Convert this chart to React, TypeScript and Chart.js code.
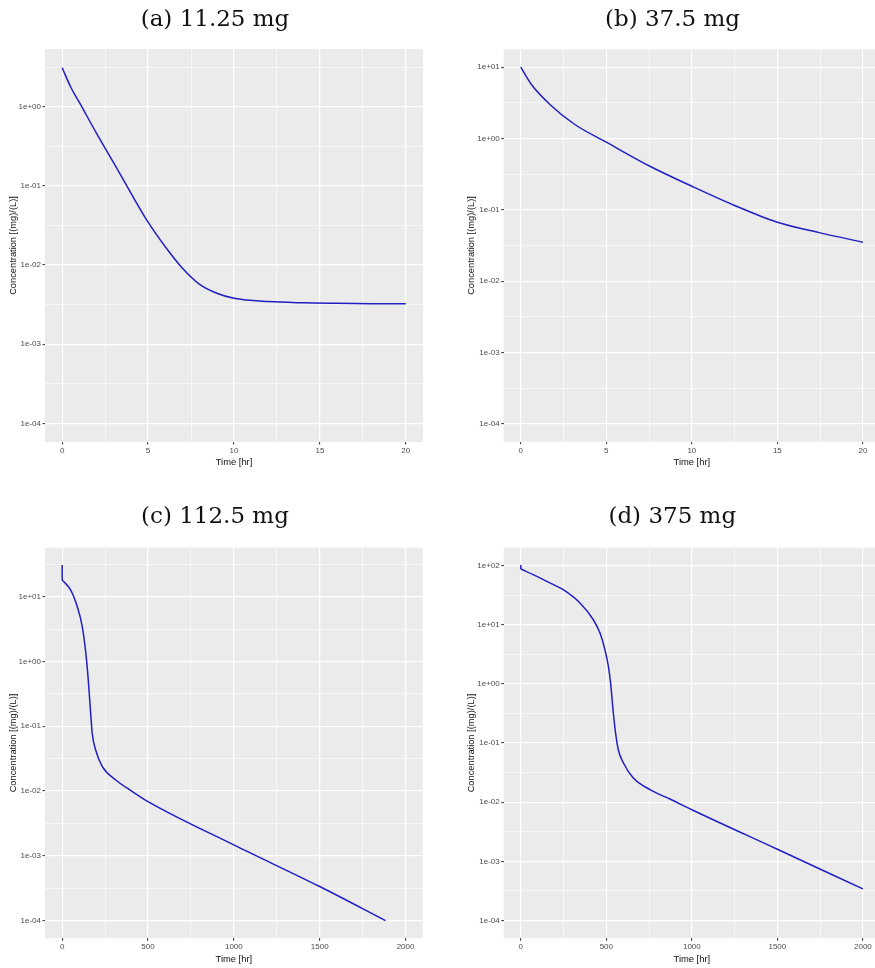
import React, { useEffect, useRef } from 'react';
import { Chart, registerables } from 'chart.js';

Chart.register(...registerables);

// ---------- data ----------
// (a) 11.25 mg
const A_TIME = [0, 0.5, 1, 2, 3, 4, 5, 6, 7, 8, 9, 10, 12, 14, 16, 18, 20];
const A_CONC = [3.1, 1.76, 1.13, 0.46, 0.195, 0.081, 0.0347, 0.017, 0.0091, 0.0057, 0.0044, 0.0038, 0.00345, 0.00333, 0.00328, 0.00325, 0.00323];

// (b) 37.5 mg
const B_TIME = [0, 0.62, 1.7, 3.16, 5, 7.55, 10, 12.5, 15, 17.5, 20];
const B_CONC = [10, 5.71, 3.0, 1.57, 0.887, 0.408, 0.214, 0.115, 0.067, 0.0475, 0.0352];

// (c) 112.5 mg  (initial spike at t = 0, then the decay curve)
const C_SPIKE_TIME = [0, 0];
const C_SPIKE_CONC = [30.8, 18.1];
const C_TIME = [0, 49, 88, 117, 140, 152, 166, 175, 195, 234, 312, 409, 500, 1000, 1500, 1883];
const C_CONC = [18.1, 12.7, 7.0, 3.44, 1.19, 0.52, 0.158, 0.078, 0.043, 0.0238, 0.0148, 0.0098, 0.00686, 0.00147, 0.000335, 0.0001];

// (d) 375 mg  (initial spike at t = 0, then the decay curve)
const D_SPIKE_TIME = [0, 0];
const D_SPIKE_CONC = [102, 87];
const D_TIME = [0, 100, 175, 248, 346, 424, 463, 492, 512, 525, 541, 554, 570, 600, 658, 755, 872, 1000, 1500, 2000];
const D_CONC = [87, 64, 49.7, 38.9, 23.2, 12.1, 7.2, 3.77, 1.97, 1.03, 0.321, 0.148, 0.077, 0.046, 0.0256, 0.0163, 0.0113, 0.00746, 0.0016, 0.000342];

// ---------- tick labels ----------
const X_TICKS_SHORT = [0, 5, 10, 15, 20];
const X_TICKS_LONG = [0, 500, 1000, 1500, 2000];
const Y_TICKS_A = [1e-4, 1e-3, 1e-2, 1e-1, 1];
const Y_LABELS_A = ['1e-04', '1e-03', '1e-02', '1e-01', '1e+00'];
const Y_TICKS_B = [1e-4, 1e-3, 1e-2, 1e-1, 1, 10];
const Y_LABELS_B = ['1e-04', '1e-03', '1e-02', '1e-01', '1e+00', '1e+01'];
const Y_TICKS_D = [1e-4, 1e-3, 1e-2, 1e-1, 1, 10, 100];
const Y_LABELS_D = ['1e-04', '1e-03', '1e-02', '1e-01', '1e+00', '1e+01', '1e+02'];

const TITLES = ['(a) 11.25 mg', '(b) 37.5 mg', '(c) 112.5 mg', '(d) 375 mg'];
const X_TITLE = 'Time [hr]';
const Y_TITLE = 'Concentration [(mg)/(L)]';

const SANS = '"Liberation Sans", Arial, sans-serif';
const LINE_COLOR = '#1f1fc4';

type Spec = {
  title: string;
  left: number; top: number; width: number; height: number;
  padTop: number; padRight: number; yAxisW: number; xAxisH: number;
  yTitlePad: number; xTitlePad: number;
  xMin: number; xMax: number; xMajor: number[];
  yMin: number; yMax: number; yMajor: number[]; yLabels: string[];
  time: number[]; conc: number[];
  spikeTime?: number[]; spikeConc?: number[];
  titleX: number; titleTop: number;
};

const SPECS: Spec[] = [
  {
    title: TITLES[0], left: 0, top: 0, width: 437, height: 480,
    padTop: 49, padRight: 14, yAxisW: 45, xAxisH: 38, yTitlePad: 7.6, xTitlePad: 11.6,
    xMin: -1, xMax: 21, xMajor: X_TICKS_SHORT,
    yMin: Math.pow(10, -4.236), yMax: Math.pow(10, 0.7285), yMajor: Y_TICKS_A, yLabels: Y_LABELS_A,
    time: A_TIME, conc: A_CONC, titleX: 215, titleTop: 7.2,
  },
  {
    title: TITLES[1], left: 437, top: 0, width: 460, height: 480,
    padTop: 49.3, padRight: 17, yAxisW: 66.7, xAxisH: 38.3, yTitlePad: 28.5, xTitlePad: 11.6,
    xMin: -1, xMax: 21, xMajor: X_TICKS_SHORT,
    yMin: Math.pow(10, -4.25), yMax: Math.pow(10, 1.25), yMajor: Y_TICKS_B, yLabels: Y_LABELS_B,
    time: B_TIME, conc: B_CONC, titleX: 672.5, titleTop: 7.2,
  },
  {
    title: TITLES[2], left: 0, top: 480, width: 437, height: 488,
    padTop: 67.7, padRight: 14.3, yAxisW: 45, xAxisH: 29.7, yTitlePad: 7.6, xTitlePad: 3,
    xMin: -100, xMax: 2100, xMajor: X_TICKS_LONG,
    yMin: Math.pow(10, -4.274), yMax: Math.pow(10, 1.756), yMajor: Y_TICKS_B, yLabels: Y_LABELS_B,
    time: C_TIME, conc: C_CONC, spikeTime: C_SPIKE_TIME, spikeConc: C_SPIKE_CONC,
    titleX: 215, titleTop: 503.8,
  },
  {
    title: TITLES[3], left: 437, top: 480, width: 460, height: 488,
    padTop: 67.7, padRight: 17, yAxisW: 66.7, xAxisH: 29.7, yTitlePad: 28.5, xTitlePad: 3,
    xMin: -100, xMax: 2100, xMajor: X_TICKS_LONG,
    yMin: Math.pow(10, -4.3), yMax: Math.pow(10, 2.3), yMajor: Y_TICKS_D, yLabels: Y_LABELS_D,
    time: D_TIME, conc: D_CONC, spikeTime: D_SPIKE_TIME, spikeConc: D_SPIKE_CONC,
    titleX: 672.3, titleTop: 503.8,
  },
];

const panelBg = {
  id: 'panelBg',
  beforeDraw(chart: any) {
    const { ctx, chartArea: a } = chart;
    ctx.save();
    ctx.fillStyle = '#ebebeb';
    ctx.fillRect(a.left, a.top, a.right - a.left, a.bottom - a.top);
    ctx.restore();
  },
};

function xTickValues(s: Spec): number[] {
  const out: number[] = [];
  const m = s.xMajor;
  for (let i = 0; i < m.length; i++) {
    out.push(m[i]);
    if (i < m.length - 1) out.push((m[i] + m[i + 1]) / 2);
  }
  return out.filter((v) => v >= s.xMin && v <= s.xMax);
}

function yTickValues(s: Spec): number[] {
  const m = s.yMajor;
  const out: number[] = [m[0] / Math.sqrt(10)];
  for (let i = 0; i < m.length; i++) {
    out.push(m[i]);
    out.push(m[i] * Math.sqrt(10));
  }
  return out.filter((v) => v >= s.yMin && v <= s.yMax);
}

function yMajorIndex(s: Spec, v: number): number {
  for (let i = 0; i < s.yMajor.length; i++) {
    if (Math.abs(Math.log10(v) - Math.log10(s.yMajor[i])) < 1e-6) return i;
  }
  return -1;
}

function Panel({ spec }: { spec: Spec }) {
  const ref = useRef<HTMLCanvasElement>(null);

  useEffect(() => {
    const s = spec;
    const xs = xTickValues(s);
    const ys = yTickValues(s);
    const isMajorX = (v: number) => s.xMajor.indexOf(v) >= 0;
    const datasets: any[] = [
      {
        data: s.time.map((t, i) => ({ x: t, y: s.conc[i] })),
        borderColor: LINE_COLOR,
        borderWidth: 1.5,
        pointRadius: 0,
        fill: false,
        cubicInterpolationMode: 'monotone',
      },
    ];
    if (s.spikeTime && s.spikeConc) {
      const sc = s.spikeConc;
      datasets.push({
        data: s.spikeTime.map((t, i) => ({ x: t, y: sc[i] })),
        borderColor: LINE_COLOR,
        borderWidth: 1.5,
        pointRadius: 0,
        fill: false,
        tension: 0,
      });
    }
    const chart = new Chart(ref.current as HTMLCanvasElement, {
      type: 'line',
      data: { datasets },
      options: {
        responsive: false,
        animation: false,
        layout: { padding: { top: s.padTop, right: s.padRight, left: 0, bottom: 0 } },
        plugins: {
          legend: { display: false },
          tooltip: { enabled: false },
          title: { display: false },
        },
        scales: {
          x: {
            type: 'linear',
            bounds: 'data',
            min: s.xMin,
            max: s.xMax,
            afterBuildTicks: (sc: any) => {
              sc.ticks = xs.map((v) => ({ value: v }));
            },
            afterFit: (sc: any) => {
              sc.height = s.xAxisH;
            },
            border: { display: false },
            grid: {
              color: '#ffffff',
              lineWidth: (ctx: any) => (ctx.tick && isMajorX(ctx.tick.value) ? 1.2 : 0.6),
              tickLength: 2.5,
              tickWidth: 1,
              tickColor: (ctx: any) => (ctx.tick && isMajorX(ctx.tick.value) ? '#333333' : 'rgba(0,0,0,0)'),
            },
            ticks: {
              autoSkip: false,
              maxRotation: 0,
              padding: 1.5,
              color: '#4d4d4d',
              font: { family: SANS, size: 8 },
              callback: (v: any) => (isMajorX(Number(v)) ? String(v) : ''),
            },
            title: {
              display: true,
              text: X_TITLE,
              color: '#111111',
              font: { family: SANS, size: 9.4 },
              padding: { top: 0, bottom: s.xTitlePad },
            },
          },
          y: {
            type: 'logarithmic',
            bounds: 'data',
            min: s.yMin,
            max: s.yMax,
            afterBuildTicks: (sc: any) => {
              sc.ticks = ys.map((v) => ({ value: v }));
            },
            afterFit: (sc: any) => {
              sc.width = s.yAxisW;
            },
            border: { display: false },
            grid: {
              color: '#ffffff',
              lineWidth: (ctx: any) => (ctx.tick && yMajorIndex(s, ctx.tick.value) >= 0 ? 1.2 : 0.6),
              tickLength: 2.5,
              tickWidth: 1,
              tickColor: (ctx: any) => (ctx.tick && yMajorIndex(s, ctx.tick.value) >= 0 ? '#333333' : 'rgba(0,0,0,0)'),
            },
            ticks: {
              autoSkip: false,
              padding: 1.5,
              color: '#4d4d4d',
              font: { family: SANS, size: 8 },
              callback: (v: any) => {
                const i = yMajorIndex(s, Number(v));
                return i >= 0 ? s.yLabels[i] : '';
              },
            },
            title: {
              display: true,
              text: Y_TITLE,
              color: '#111111',
              font: { family: SANS, size: 9.3 },
              padding: { top: s.yTitlePad, bottom: 0 },
            },
          },
        },
      } as any,
      plugins: [panelBg],
    } as any);
    return () => chart.destroy();
  }, [spec]);

  return (
    <>
      <canvas
        ref={ref}
        width={spec.width}
        height={spec.height}
        style={{ position: 'absolute', left: spec.left, top: spec.top, width: spec.width, height: spec.height }}
      />
      <div
        style={{
          position: 'absolute',
          left: spec.titleX - 150,
          top: spec.titleTop,
          width: 300,
          textAlign: 'center',
          fontFamily: '"DejaVu Serif", serif',
          fontSize: 23,
          lineHeight: '23px',
          whiteSpace: 'nowrap',
          color: '#111',
        }}
      >
        {spec.title}
      </div>
    </>
  );
}

export default function App() {
  return (
    <div
      style={{
        position: 'fixed',
        left: 0,
        top: 0,
        width: 875,
        height: 968,
        overflow: 'hidden',
        background: '#ffffff',
      }}
    >
      {SPECS.map((s) => (
        <Panel key={s.title} spec={s} />
      ))}
    </div>
  );
}
